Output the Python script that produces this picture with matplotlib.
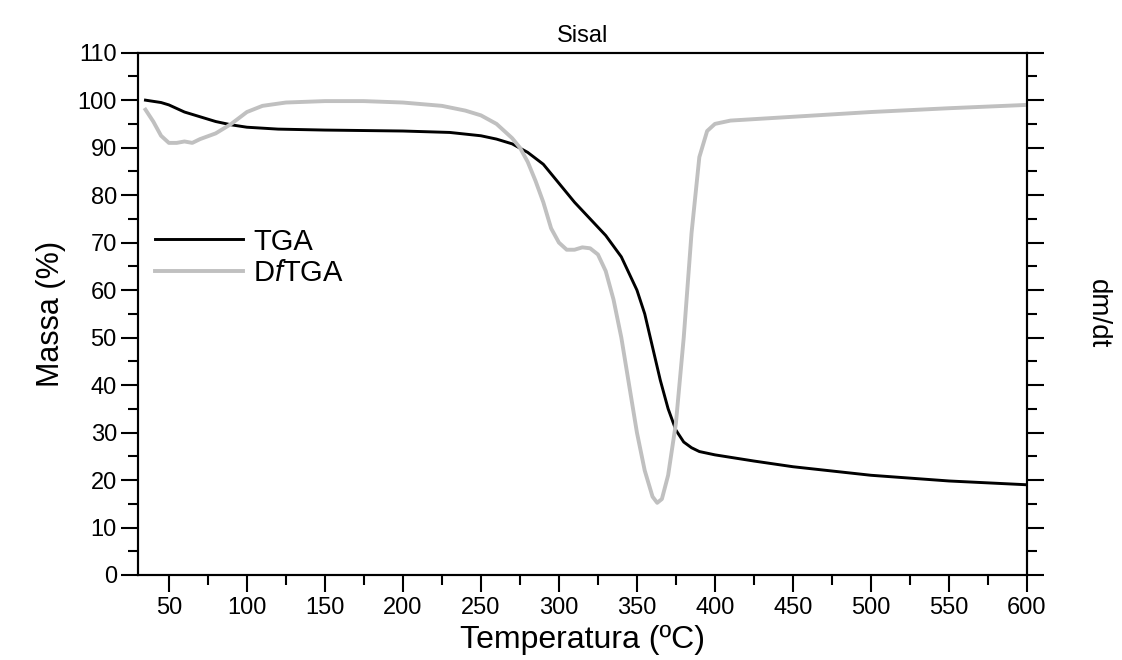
import matplotlib
matplotlib.use("Agg")
import matplotlib.pyplot as plt
from matplotlib.ticker import MultipleLocator, NullFormatter

plt.rcParams['font.family'] = ['Liberation Sans', 'DejaVu Sans']
plt.rcParams['mathtext.fontset'] = 'custom'
plt.rcParams['mathtext.rm'] = 'Liberation Sans'
plt.rcParams['mathtext.it'] = 'Liberation Sans:italic'

# TGA (massa %)
tga_temp = [35, 45, 50, 60, 70, 80, 90, 100, 120, 150, 200, 230, 250, 260, 270,
            280, 290, 300, 310, 320, 330, 340, 350, 355, 360, 365, 370, 375,
            380, 385, 390, 400, 425, 450, 500, 550, 600]
tga_mass = [100, 99.5, 99, 97.5, 96.5, 95.5, 94.8, 94.3, 93.9, 93.7, 93.5, 93.2,
            92.5, 91.8, 90.8, 89, 86.5, 82.5, 78.5, 75, 71.5, 67, 60, 55, 48,
            41, 35, 30.5, 28, 26.8, 26, 25.3, 24, 22.8, 21, 19.8, 19]

# DfTGA (dm/dt, escala relativa)
dtg_temp = [35, 40, 45, 50, 55, 60, 65, 70, 80, 90, 100, 110, 125, 150, 175,
            200, 225, 240, 250, 260, 270, 275, 280, 285, 290, 295, 300, 305,
            310, 315, 320, 325, 330, 335, 340, 345, 350, 355, 360, 363, 366,
            370, 375, 380, 385, 390, 395, 400, 410, 450, 500, 550, 600]
dtg_val = [98, 95.5, 92.5, 91, 91, 91.3, 91, 91.8, 93, 95, 97.5, 98.8, 99.5,
           99.8, 99.8, 99.5, 98.8, 97.8, 96.8, 95, 92, 90, 87, 83, 78.5, 73,
           70, 68.5, 68.5, 69, 68.8, 67.5, 64, 58, 50, 40, 30, 22, 16.5, 15.2,
           16, 21, 32, 50, 72, 88, 93.5, 95, 95.7, 96.5, 97.5, 98.3, 99]

fig = plt.figure(figsize=(11.22, 6.6), dpi=100)
ax = fig.add_axes([0.1227, 0.1288, 0.7926, 0.7914])
ax2 = ax.twinx()

l1, = ax.plot(tga_temp, tga_mass, color='black', lw=2.1, label='TGA')
l2, = ax2.plot(dtg_temp, dtg_val, color='#c0c0c0', lw=2.8, label='D$\\mathit{f}$TGA')

ax.set_xlim(30, 600)
ax.set_ylim(0, 110)
ax2.set_ylim(0, 110)

ax.xaxis.set_major_locator(MultipleLocator(50))
ax.xaxis.set_minor_locator(MultipleLocator(25))
ax.yaxis.set_major_locator(MultipleLocator(10))
ax.yaxis.set_minor_locator(MultipleLocator(5))
ax2.yaxis.set_major_locator(MultipleLocator(10))
ax2.yaxis.set_minor_locator(MultipleLocator(5))
ax2.yaxis.set_major_formatter(NullFormatter())

for a in (ax, ax2):
    a.tick_params(which='major', direction='out', length=12, width=1.5, labelsize=17)
    a.tick_params(which='minor', direction='out', length=7, width=1.5)
    for s in a.spines.values():
        s.set_linewidth(1.5)
ax.tick_params(axis='x', pad=4)
ax.tick_params(axis='y', pad=3)

ax.set_xlabel('Temperatura (ºC)', fontsize=23, labelpad=4)
ax.set_ylabel('Massa (%)', fontsize=22, labelpad=8)
ax2.set_ylabel('dm/dt', fontsize=20, rotation=270, labelpad=45)
ax.set_title('Sisal', fontsize=17, pad=8)

ax.legend(handles=[l1, l2], loc='upper left', bbox_to_anchor=(0.02, 0.665),
          frameon=False, fontsize=21, handlelength=3.0, handletextpad=0.35,
          labelspacing=0.12, borderpad=0, borderaxespad=0)

fig.savefig('out.png', dpi=100)
